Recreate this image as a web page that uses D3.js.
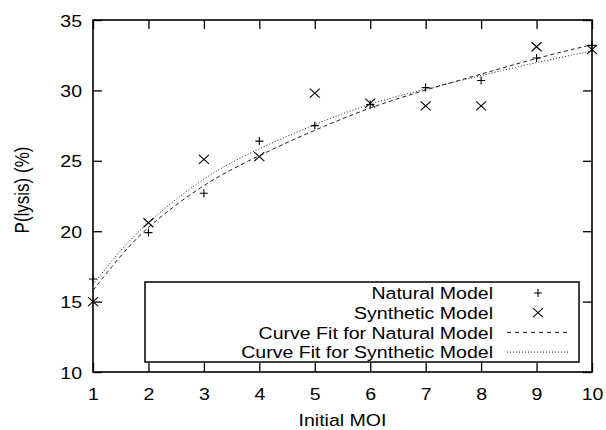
<!DOCTYPE html>
<html>
<head>
<meta charset="utf-8">
<script src="https://cdn.jsdelivr.net/npm/d3@7"></script>
<style>
  body { margin: 0; background: #fff; }
  svg { display: block; }
  text { font-family: "Liberation Sans", Arial, Helvetica, sans-serif; fill: #000; }
</style>
</head>
<body>
<div id="chart"></div>
<script>
// values
var moi = [1, 2, 3, 4, 5, 6, 7, 8, 9, 10];
var naturalModel = [16.6, 19.9, 22.7, 26.4, 27.5, 29.0, 30.2, 30.7, 32.3, 33.2];
var syntheticModel = [15.0, 20.6, 25.1, 25.3, 29.8, 29.1, 28.9, 28.9, 33.1, 32.9];

// curves traced from the plotted fits
var fitX = [1, 1.5, 2, 3, 4, 5, 6, 7, 8, 9, 10];
var naturalFit = [15.8, 18.3, 20.4, 23.4, 25.4, 27.2, 28.8, 30.05, 31.15, 32.3, 33.25];
var syntheticFit = [16.2, 18.7, 20.7, 23.9, 25.9, 27.6, 29.1, 30.1, 31.05, 32.0, 32.8];

var xTicks = [1, 2, 3, 4, 5, 6, 7, 8, 9, 10];
var yTicks = [10, 15, 20, 25, 30, 35];
var legendLabels = ["Natural Model", "Synthetic Model", "Curve Fit for Natural Model", "Curve Fit for Synthetic Model"];

var W = 606, H = 430;
var pL = 93, pR = 592, pT = 20, pB = 372;
var SX = 1.15; // the glyphs in the reference are wide
var FS = "17px";

var svg = d3.select("#chart").append("svg").attr("width", W).attr("height", H);

var x = d3.scaleLinear().domain([1, 10]).range([pL, pR]);
var y = d3.scaleLinear().domain([10, 35]).range([pB, pT]);

function label(g, px, py, str, anchor) {
    return g.append("text")
        .attr("transform", "translate(" + px + "," + py + ") scale(" + SX + ",1)")
        .attr("text-anchor", anchor)
        .style("font-size", FS)
        .text(str);
}

// axes, ticks pointing inward on all four sides
var axB = svg.append("g").attr("transform", "translate(0," + pB + ")")
    .call(d3.axisBottom(x).tickValues(xTicks).tickSize(-9).tickFormat(d3.format("d")));
var axT = svg.append("g").attr("transform", "translate(0," + pT + ")")
    .call(d3.axisTop(x).tickValues(xTicks).tickSize(-9).tickFormat(""));
var axL = svg.append("g").attr("transform", "translate(" + pL + ",0)")
    .call(d3.axisLeft(y).tickValues(yTicks).tickSize(-9).tickFormat(d3.format("d")));
var axR = svg.append("g").attr("transform", "translate(" + pR + ",0)")
    .call(d3.axisRight(y).tickValues(yTicks).tickSize(-9).tickFormat(""));

[axB, axT, axL, axR].forEach(function (a) {
    a.select(".domain").remove();
    a.selectAll("line").attr("stroke", "#000").attr("stroke-width", 1.3);
});

axB.selectAll("text")
    .attr("y", null).attr("dy", null)
    .attr("transform", "translate(0,27.5) scale(" + SX + ",1)")
    .attr("font-family", null).attr("font-size", null)
    .style("font-size", FS).attr("fill", "#000");
axL.selectAll("text")
    .attr("x", null).attr("dy", null)
    .attr("transform", "translate(-11,6.1) scale(" + SX + ",1)")
    .attr("font-family", null).attr("font-size", null)
    .style("font-size", FS).attr("fill", "#000");
svg.selectAll(".tick text").style("font-family", "'Liberation Sans', Arial, Helvetica, sans-serif");

svg.append("rect")
    .attr("x", pL).attr("y", pT)
    .attr("width", pR - pL).attr("height", pB - pT)
    .attr("fill", "none").attr("stroke", "#000").attr("stroke-width", 1.6);

// axis titles
label(svg, (pL + pR) / 2, 426, "Initial MOI", "middle");
svg.append("text")
    .attr("transform", "translate(29,190) scale(" + SX + ",1) rotate(-90)")
    .attr("text-anchor", "middle")
    .style("font-size", FS)
    .text("P(lysis) (%)");

// fit curves
var line = d3.line()
    .x(function (d) { return x(d[0]); })
    .y(function (d) { return y(d[1]); })
    .curve(d3.curveBasis);

svg.append("path")
    .datum(d3.zip(fitX, naturalFit))
    .attr("d", line)
    .attr("fill", "none").attr("stroke", "#222").attr("stroke-width", 1)
    .attr("stroke-dasharray", "4,3");
svg.append("path")
    .datum(d3.zip(fitX, syntheticFit))
    .attr("d", line)
    .attr("fill", "none").attr("stroke", "#222").attr("stroke-width", 1)
    .attr("stroke-dasharray", "1,2");

// point markers
function plus(g, cx, cy) {
    g.append("path")
        .attr("d", "M" + (cx - 4) + "," + cy + "H" + (cx + 4) + "M" + cx + "," + (cy - 4) + "V" + (cy + 4))
        .attr("stroke", "#000").attr("stroke-width", 1.1).attr("fill", "none");
}
function cross(g, cx, cy) {
    g.append("path")
        .attr("d", "M" + (cx - 5) + "," + (cy - 4.5) + "L" + (cx + 5) + "," + (cy + 4.5) +
                   "M" + (cx - 5) + "," + (cy + 4.5) + "L" + (cx + 5) + "," + (cy - 4.5))
        .attr("stroke", "#000").attr("stroke-width", 1.1).attr("fill", "none");
}

var pts = svg.append("g");
moi.forEach(function (m, i) {
    plus(pts, x(m), y(naturalModel[i]));
    cross(pts, x(m), y(syntheticModel[i]));
});

// legend
var lg = svg.append("g");
lg.append("rect")
    .attr("x", 145).attr("y", 282).attr("width", 434).attr("height", 80)
    .attr("fill", "none").attr("stroke", "#000").attr("stroke-width", 1.5);

legendLabels.forEach(function (t, i) {
    var cy = 293 + i * 19.7;
    label(lg, 493, cy + 6.1, t, "end");
    if (i === 0) plus(lg, 538, cy);
    if (i === 1) cross(lg, 538, cy);
    if (i > 1) {
        lg.append("line")
            .attr("x1", 507).attr("x2", 568).attr("y1", cy).attr("y2", cy)
            .attr("stroke", "#222").attr("stroke-width", 1)
            .attr("stroke-dasharray", i === 2 ? "4,4" : "1,2");
    }
});
</script>
</body>
</html>
